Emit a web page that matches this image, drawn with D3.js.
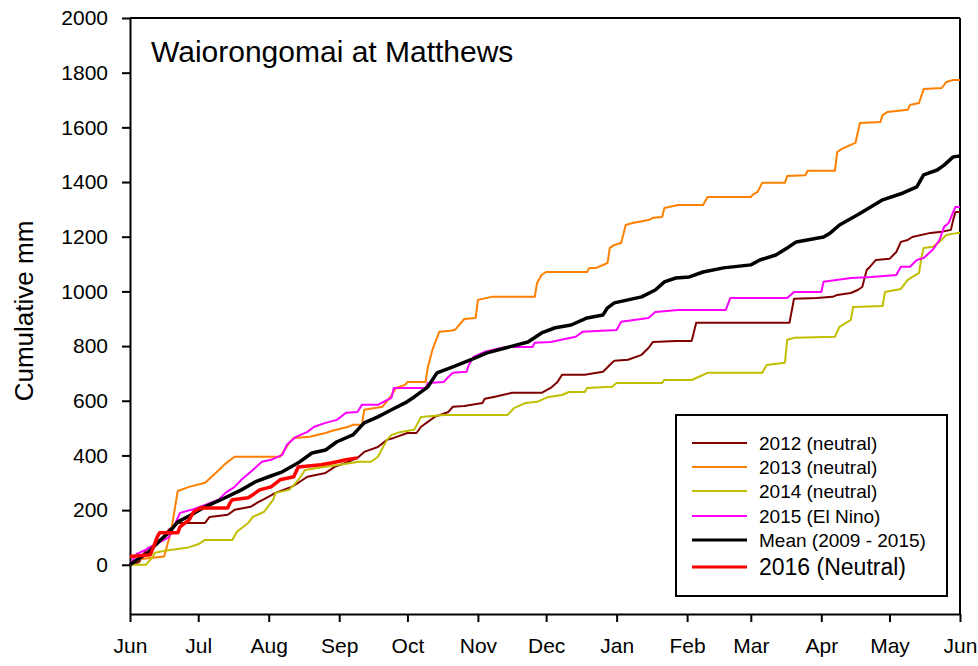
<!DOCTYPE html>
<html>
<head>
<meta charset="utf-8">
<script src="https://cdn.jsdelivr.net/npm/d3@7"></script>
<style>
body { margin: 0; background: #fff; }
svg { font-family: Arial, "Liberation Sans", sans-serif; }
.axis path, .axis line { stroke: #000; stroke-width: 2px; }
.axis text { font-size: 21px; fill: #000; }
</style>
</head>
<body>
<svg width="978" height="666"></svg>
<script>
var svg = d3.select("svg");

// each series is [days since 1 June, cumulative mm]
var s2012 = [[0,0],[4,10],[6,40],[8,62],[12,75],[17,128],[21,153],[33,153],[35,175],[43,183],[46,201],[53,212],[56,227],[60,245],[64,263],[71,285],[74,300],[78,322],[86,336],[90,358],[95,373],[100,391],[103,413],[109,431],[113,457],[116,464],[122,482],[126,482],[128,505],[134,541],[140,559],[142,578],[147,581],[155,592],[156,607],[160,614],[168,629],[181,629],[185,647],[188,669],[190,695],[200,695],[208,706],[212,739],[213,746],[219,750],[225,768],[228,793],[230,815],[240,819],[247,819],[249,885],[290,885],[292,973],[302,976],[309,980],[311,987],[317,994],[320,1005],[322,1016],[324,1079],[325,1086],[328,1115],[334,1119],[337,1144],[339,1181],[342,1188],[344,1199],[352,1214],[357,1218],[361,1225],[362,1261],[363,1290],[365,1290]];

var s2013 = [[0,0],[4,20],[15,30],[18,120],[21,270],[26,285],[33,300],[37,330],[42,370],[46,395],[66,395],[70,446],[72,464],[79,468],[86,482],[89,490],[96,505],[98,512],[102,512],[103,567],[111,578],[115,620],[117,647],[121,658],[122,669],[130,669],[131,724],[133,786],[136,852],[141,856],[143,860],[146,889],[147,899],[152,903],[153,969],[159,980],[178,980],[179,1031],[181,1060],[183,1071],[201,1071],[202,1086],[205,1086],[210,1104],[211,1159],[213,1170],[216,1177],[218,1243],[221,1250],[228,1261],[230,1269],[234,1272],[235,1305],[241,1316],[252,1316],[254,1345],[273,1345],[274,1355],[276,1364],[278,1397],[288,1397],[289,1422],[297,1425],[298,1441],[310,1441],[311,1510],[313,1521],[319,1543],[321,1616],[330,1620],[331,1645],[333,1656],[342,1664],[343,1682],[347,1689],[349,1740],[357,1744],[359,1766],[362,1773],[365,1773]];

var s2014 = [[0,0],[7,0],[10,29],[11,44],[16,52],[25,62],[30,75],[33,91],[45,91],[47,121],[52,153],[54,175],[59,194],[63,238],[64,263],[70,274],[73,300],[75,322],[77,347],[83,355],[98,373],[100,377],[106,377],[109,395],[113,457],[115,475],[119,486],[125,494],[128,541],[138,548],[166,548],[169,574],[174,592],[179,596],[184,614],[190,621],[193,632],[200,632],[201,647],[212,651],[214,665],[234,665],[235,676],[247,676],[250,687],[254,702],[278,702],[280,731],[288,739],[289,823],[292,830],[310,834],[312,870],[317,896],[318,943],[331,947],[332,998],[339,1009],[342,1042],[347,1068],[348,1122],[349,1159],[353,1163],[356,1181],[359,1206],[364,1214],[365,1214]];

var s2015 = [[0,0],[3,40],[7,55],[17,100],[20,153],[22,190],[27,201],[33,219],[39,238],[42,263],[46,285],[49,311],[54,347],[58,377],[62,384],[67,402],[69,439],[73,468],[78,486],[81,505],[86,519],[91,530],[95,556],[100,559],[102,585],[109,585],[115,611],[116,647],[130,647],[131,665],[138,669],[140,687],[142,702],[148,706],[149,731],[151,760],[156,779],[165,797],[177,797],[178,812],[185,815],[196,834],[199,852],[214,859],[216,889],[228,903],[231,925],[241,932],[262,932],[264,976],[289,976],[292,998],[304,998],[305,1035],[317,1049],[326,1053],[337,1060],[339,1090],[343,1090],[346,1115],[349,1122],[353,1152],[356,1188],[358,1236],[360,1250],[362,1290],[363,1309],[365,1309]];

var sMean = [[0,0],[3,18],[8,44],[12,80],[17,117],[21,157],[27,183],[33,212],[40,238],[49,274],[55,303],[61,322],[67,340],[74,373],[80,409],[86,420],[91,450],[98,475],[103,519],[109,541],[115,567],[121,592],[125,614],[131,651],[135,702],[142,724],[150,750],[157,775],[165,793],[175,815],[181,848],[187,867],[194,877],[201,903],[208,914],[210,940],[213,958],[219,969],[225,980],[231,1005],[235,1035],[240,1049],[246,1053],[252,1071],[261,1086],[273,1097],[277,1115],[284,1133],[289,1159],[293,1181],[305,1199],[308,1214],[312,1243],[320,1280],[325,1305],[331,1335],[340,1360],[346,1382],[349,1426],[355,1444],[358,1462],[362,1492],[365,1495]];

var s2016 = [[0,30],[9,37],[12,102],[13,117],[21,117],[22,139],[26,164],[28,194],[31,208],[43,208],[44,227],[45,238],[52,245],[54,256],[57,274],[62,285],[66,311],[72,322],[74,358],[84,366],[89,373],[95,384],[100,391]];

var seriesNames = ["2012 (neutral)", "2013 (neutral)", "2014 (neutral)", "2015 (El Nino)", "Mean (2009 - 2015)", "2016 (Neutral)"];
var seriesData = [s2012, s2013, s2014, s2015, sMean, s2016];
var seriesColors = ["#800000", "#ff8000", "#bfbf00", "#ff00ff", "#000000", "#ff0000"];
var seriesWidths = [2, 2, 2, 2, 3.5, 3.5];

var monthLabels = ["Jun","Jul","Aug","Sep","Oct","Nov","Dec","Jan","Feb","Mar","Apr","May","Jun"];
var yTicks = [0,200,400,600,800,1000,1200,1400,1600,1800,2000];

// plot box (note: "top" is a reserved window prop, so use plot* names)
var plotL = 130, plotR = 960, plotT = 18, plotB = 614;
var start = new Date(Date.UTC(2014, 5, 1));
var end = new Date(Date.UTC(2015, 5, 1));

var x = d3.scaleUtc().domain([start, end]).range([plotL, plotR]);
var y = d3.scaleLinear().domain([-180, 2000]).range([plotB, plotT]);

// frame on top and right
svg.append("line").attr("x1", plotL).attr("x2", plotR).attr("y1", plotT).attr("y2", plotT)
    .attr("stroke", "#000").attr("stroke-width", 2);
svg.append("line").attr("x1", plotR).attr("x2", plotR).attr("y1", plotT).attr("y2", plotB)
    .attr("stroke", "#000").attr("stroke-width", 2);

var monthTicks = d3.utcMonth.range(start, d3.utcDay.offset(end, 1));
var xAxis = d3.axisBottom(x).tickValues(monthTicks)
    .tickFormat(function(d, i) { return monthLabels[i]; })
    .tickSizeInner(8).tickSizeOuter(0).tickPadding(16);
svg.append("g").attr("class", "axis").attr("transform", "translate(0," + plotB + ")").call(xAxis);

var yAxis = d3.axisLeft(y).tickValues(yTicks).tickFormat(d3.format("d"))
    .tickSizeInner(8).tickSizeOuter(0).tickPadding(14);
svg.append("g").attr("class", "axis").attr("transform", "translate(" + plotL + ",0)").call(yAxis);

var line = d3.line()
    .x(function(d) { return x(d3.utcDay.offset(start, d[0])); })
    .y(function(d) { return y(d[1]); });

for (var i = 0; i < seriesData.length; i++) {
    svg.append("path")
        .attr("d", line(seriesData[i]))
        .attr("fill", "none")
        .attr("stroke", seriesColors[i])
        .attr("stroke-width", seriesWidths[i])
        .attr("stroke-linejoin", "round");
}

// title and y label
svg.append("text").attr("x", 151).attr("y", 62).attr("font-size", 30).text("Waiorongomai at Matthews");
svg.append("text").attr("transform", "translate(33,311) rotate(-90)")
    .attr("text-anchor", "middle").attr("font-size", 26).text("Cumulative mm");

// legend
var lg = svg.append("g");
lg.append("rect").attr("x", 676).attr("y", 415).attr("width", 271).attr("height", 181)
    .attr("fill", "#fff").attr("stroke", "#000").attr("stroke-width", 2);
var rowY = [443, 467, 491, 516, 540, 567];
for (var j = 0; j < seriesNames.length; j++) {
    lg.append("line").attr("x1", 692).attr("x2", 747).attr("y1", rowY[j]).attr("y2", rowY[j])
        .attr("stroke", seriesColors[j]).attr("stroke-width", j >= 4 ? 3 : 2);
    lg.append("text").attr("x", 759).attr("y", rowY[j]).attr("dy", "0.35em")
        .attr("font-size", j == 5 ? 23 : 19).text(seriesNames[j]);
}
</script>
</body>
</html>
